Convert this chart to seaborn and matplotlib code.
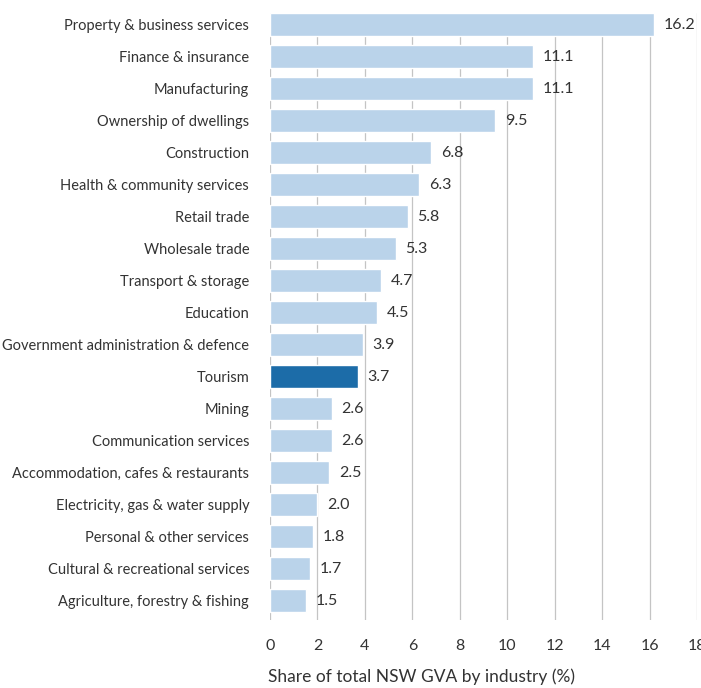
import matplotlib
matplotlib.use("Agg")
import matplotlib.pyplot as plt
import seaborn as sns
import pandas as pd

industries = [
    "Property & business services",
    "Finance & insurance",
    "Manufacturing",
    "Ownership of dwellings",
    "Construction",
    "Health & community services",
    "Retail trade",
    "Wholesale trade",
    "Transport & storage",
    "Education",
    "Government administration & defence",
    "Tourism",
    "Mining",
    "Communication services",
    "Accommodation, cafes & restaurants",
    "Electricity, gas & water supply",
    "Personal & other services",
    "Cultural & recreational services",
    "Agriculture, forestry & fishing",
]
share = [16.2, 11.1, 11.1, 9.5, 6.8, 6.3, 5.8, 5.3, 4.7, 4.5, 3.9, 3.7,
         2.6, 2.6, 2.5, 2.0, 1.8, 1.7, 1.5]
highlight = "Tourism"
x_ticks = [0, 2, 4, 6, 8, 10, 12, 14, 16, 18]

df = pd.DataFrame({"industry": industries, "share": share})
df["group"] = ["hi" if i == highlight else "base" for i in industries]

sns.set_theme(style="white")
plt.rcParams["font.family"] = ["Lato", "DejaVu Sans"]
text_col = "#333333"

fig = plt.figure(figsize=(7.01, 6.88), dpi=100)
ax = fig.add_axes([270 / 701, 1 - 620 / 688, 427 / 701, 607 / 688])

sns.barplot(data=df, x="share", y="industry", hue="group",
            palette={"base": "#bad3ea", "hi": "#1c6ca8"},
            dodge=False, legend=False, width=0.72, saturation=1,
            ax=ax, zorder=2)

ax.set_xlim(0, 18)
ax.set_ylim(18.6, -0.36)
ax.set_xticks(x_ticks)
ax.set_xticklabels([str(t) for t in x_ticks])
ax.grid(axis="x", color="#c4c4c4", linewidth=0.9, zorder=0)
ax.set_axisbelow(True)
for s in ax.spines.values():
    s.set_visible(False)
ax.tick_params(axis="y", length=0, pad=15, labelsize=10.5, labelcolor=text_col)
ax.tick_params(axis="x", length=0, pad=14, labelsize=11.5, labelcolor=text_col)
ax.set_ylabel("")
ax.set_xlabel("Share of total NSW GVA by industry (%)", fontsize=12.5,
              color=text_col, labelpad=11, loc="left")
ax.xaxis.label.set_x(-0.005)

for i, v in enumerate(share):
    ax.annotate(f"{v:.1f}", xy=(v, i), xytext=(7, 0), textcoords="offset points",
                va="center", ha="left", fontsize=11.5, color=text_col)

fig.savefig("out.png", dpi=100)
